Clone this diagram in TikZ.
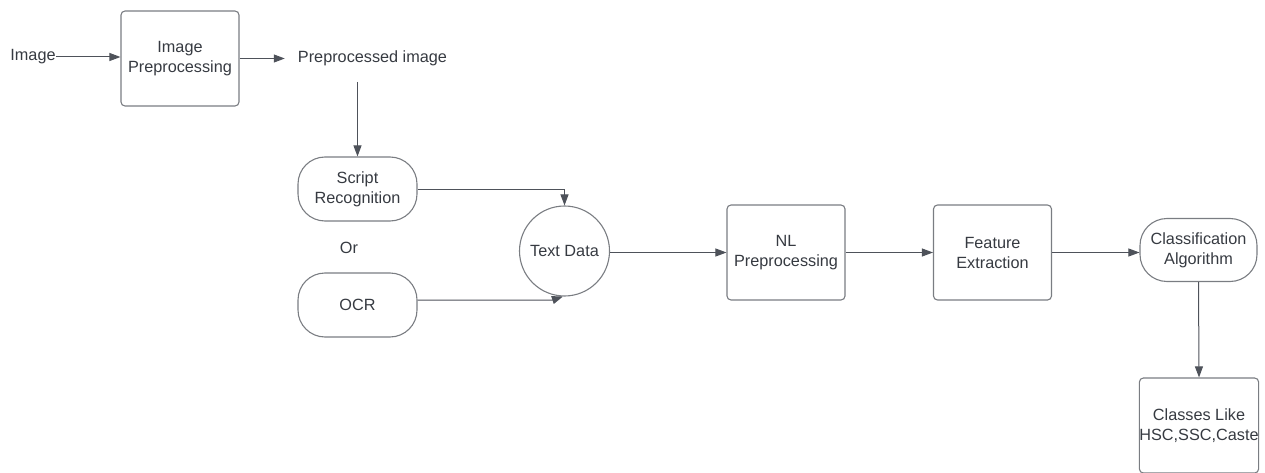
\documentclass[tikz,border=0pt]{standalone}
\usepackage{fontspec}
\setmainfont{Liberation Sans}
\usetikzlibrary{arrows.meta}
\definecolor{txt}{HTML}{363A41}
\definecolor{edge}{HTML}{4E525A}
\definecolor{bord}{HTML}{7A7D82}
\begin{document}
\begin{tikzpicture}[x=1pt,y=-1pt,
 every node/.style={font=\fontsize{16.25}{20}\selectfont, text=txt, align=center},
 box/.style={draw=bord, line width=1.1pt, rounded corners=4pt, minimum width=118pt, minimum height=95pt, inner sep=0pt},
 pill/.style={draw=bord, line width=1.1pt, rectangle, rounded corners=27pt, minimum width=119pt, minimum height=64pt, inner sep=0pt},
 disc/.style={draw=bord, line width=1.1pt, circle, minimum size=90pt, inner sep=0pt},
 lbl/.style={inner sep=0pt},
 arr/.style={draw=edge, line width=1pt, -{Triangle[length=11pt,width=8pt]}}]
\useasboundingbox (0,0) rectangle (1265,473);
\node[lbl] (img) at (33,57) {Image};
\node[box] (ip) at (180,58.5) {Image\\Preprocessing};
\node[lbl, inner xsep=13pt] (pp) at (372.5,58.5) {Preprocessed image};
\coordinate (ppd) at (357.5,82);
\node[pill] (sr) at (357.5,189) {Script\\Recognition};
\node[lbl] (or) at (349,248) {Or};
\node[pill] (ocr) at (357.5,305) {OCR};
\node[disc] (td) at (564.5,251) {Text Data};
\node[box] (nl) at (786,252.5) {NL\\Preprocessing};
\node[box] (fe) at (992.5,252.5) {Feature\\Extraction};
\node[pill, minimum width=117pt, minimum height=63pt] (ca) at (1198.5,250) {Classification\\Algorithm};
\node[box] (cl) at (1199,425.5) {Classes Like\\HSC,SSC,Caste};
\draw[arr] (img.east) -- (img.east -| ip.west);
\draw[arr] (ip.east) -- (pp.west);
\draw[arr] (ppd) -- (sr.north);
\draw[arr] (sr.east) -| (td.north);
\draw[arr] ([yshift=5pt]ocr.east) -- ++(135,0) -- (td.268);
\draw[arr] (td.east |- nl.west) -- (nl.west);
\draw[arr] (nl.east) -- (fe.west);
\draw[arr] (fe.east) -- (fe.east -| ca.west);
\draw[arr] (ca.south) -- (cl.north);
\end{tikzpicture}
\end{document}
